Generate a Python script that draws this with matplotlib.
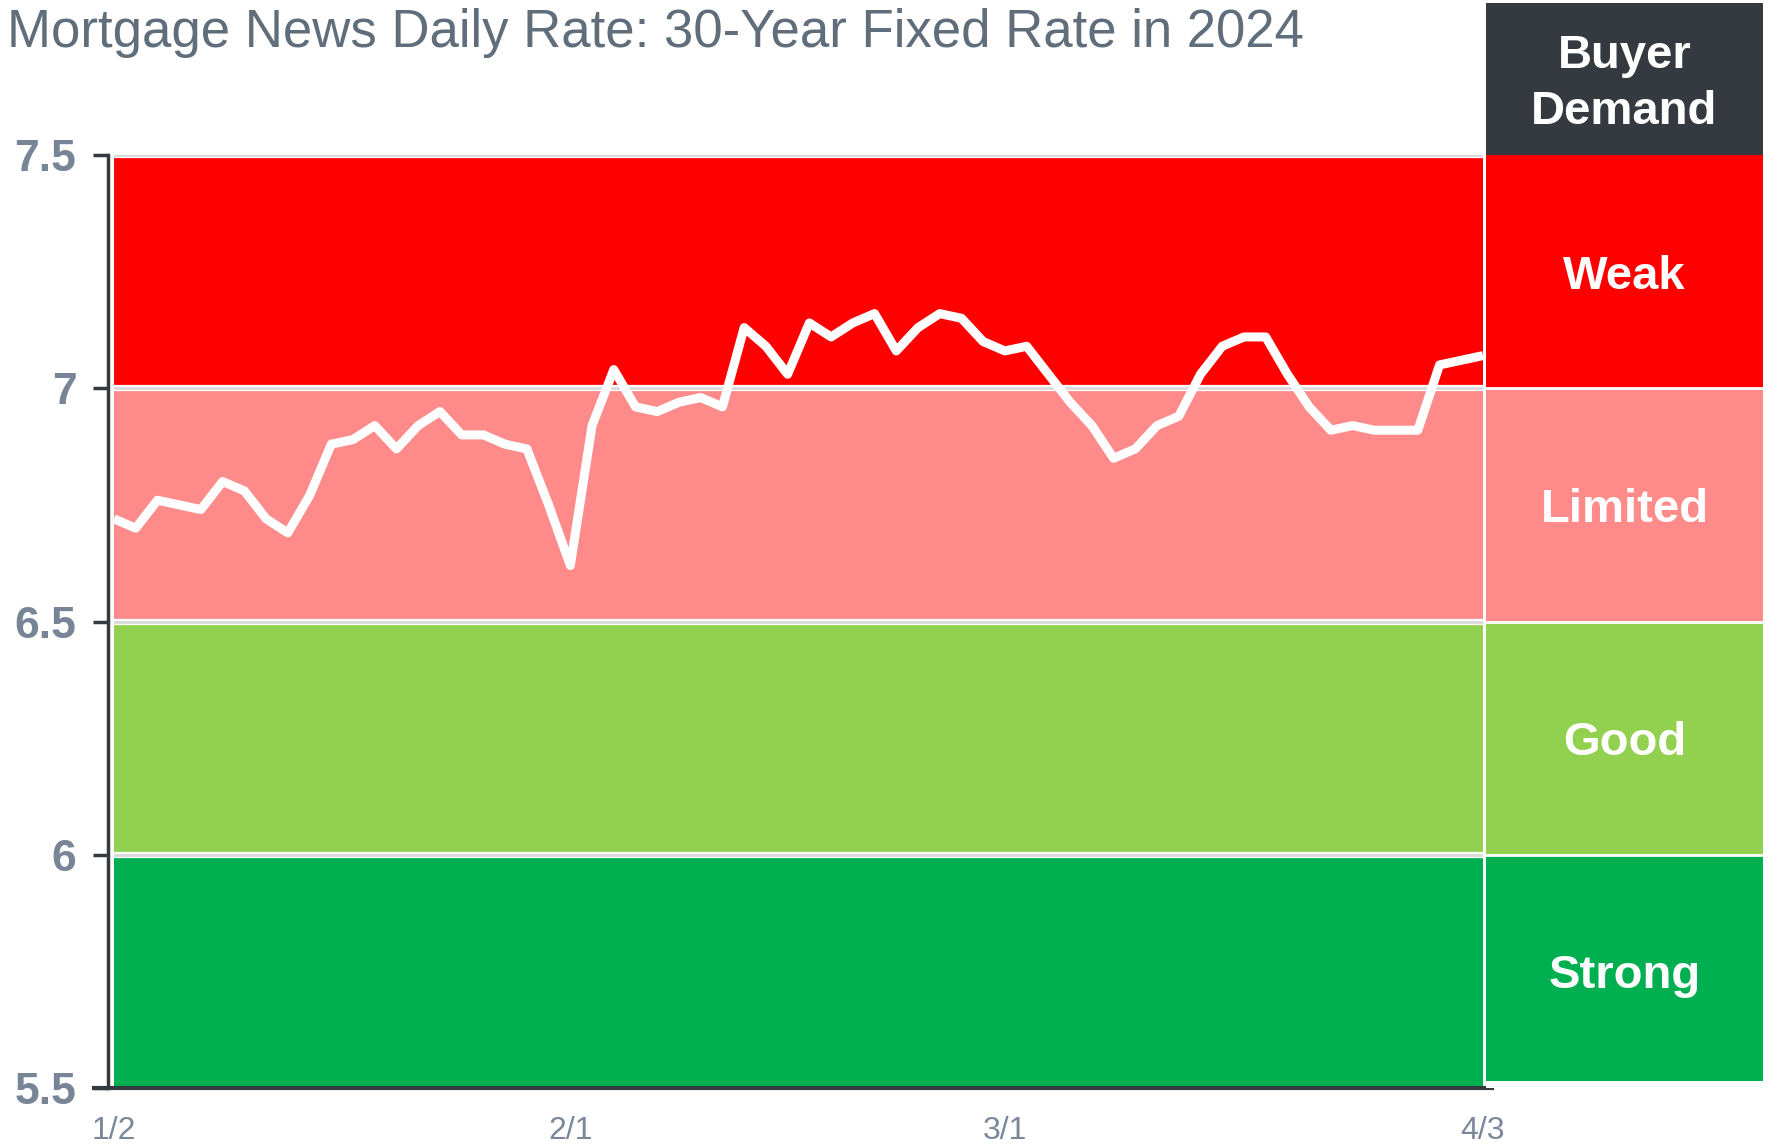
import matplotlib
matplotlib.use("Agg")
import matplotlib.pyplot as plt

plt.rcParams['font.family'] = ['Liberation Sans', 'DejaVu Sans']

# business days 1/2 .. 4/3 (2024)
rates = [6.72, 6.70, 6.76, 6.75, 6.74, 6.80, 6.78, 6.72, 6.69, 6.77,
         6.88, 6.89, 6.92, 6.87, 6.92, 6.95, 6.90, 6.90, 6.88, 6.87,
         6.75, 6.62, 6.92, 7.04, 6.96, 6.95, 6.97, 6.98, 6.96, 7.13,
         7.09, 7.03, 7.14, 7.11, 7.14, 7.16, 7.08, 7.13, 7.16, 7.15,
         7.10, 7.08, 7.09, 7.03, 6.97, 6.92, 6.85, 6.87, 6.92, 6.94,
         7.03, 7.09, 7.11, 7.11, 7.03, 6.96, 6.91, 6.92, 6.91, 6.91,
         6.91, 7.05, 7.06, 7.07]
tick_pos = [0, 21, 41, 63]
tick_labels = ["1/2", "2/1", "3/1", "4/3"]

zone_names = ["Strong", "Good", "Limited", "Weak"]
zone_edges = [5.5, 6.0, 6.5, 7.0, 7.5]
zone_colors = ["#00B050", "#92D050", "#FF8A8A", "#FF0000"]

W, H = 1771, 1144
fig = plt.figure(figsize=(W / 100, H / 100), dpi=100)

ax_l, ax_r = 114 / W, 1483 / W
ax_b, ax_t = 1 - 1088 / H, 1 - 155 / H
ax = fig.add_axes([ax_l, ax_b, ax_r - ax_l, ax_t - ax_b])

for i in range(4):
    ax.axhspan(zone_edges[i], zone_edges[i + 1], color=zone_colors[i], lw=0, zorder=0)
for lvl in zone_edges[1:]:
    ax.axhline(lvl, color="white", lw=4.5, zorder=1)
    ax.axhline(lvl, color="#D9D9D9", lw=2, zorder=1.5)

x = list(range(len(rates)))
ax.plot(x, rates, color="white", lw=6.5, solid_joinstyle="round",
        solid_capstyle="butt", zorder=3, clip_on=False)

ax.set_xlim(0, 63)
ax.set_ylim(5.5, 7.5)
ax.set_yticks([5.5, 6, 6.5, 7, 7.5])
ax.set_yticklabels(["5.5", "6", "6.5", "7", "7.5"])
ax.set_xticks(tick_pos)
ax.set_xticklabels(tick_labels)

for s in ["top", "right"]:
    ax.spines[s].set_visible(False)
ax.spines["left"].set_position(("outward", 4))
ax.spines["left"].set_color("#333A40")
ax.spines["left"].set_linewidth(2.5)
ax.spines["bottom"].set_color("#333A40")
ax.spines["bottom"].set_linewidth(3)
ax.spines["bottom"].set_bounds(-0.9, 63.4)

ax.tick_params(axis="y", direction="out", length=11, width=2.5, color="#333A40",
               labelsize=32, labelcolor="#778596", pad=12)
for t in ax.get_yticklabels():
    t.set_fontweight("bold")
ax.tick_params(axis="x", length=0, labelsize=23, labelcolor="#7A8899", pad=20)

# right-hand panel with demand zones
p_l, p_r = 1486 / W, 1763 / W
pax = fig.add_axes([p_l, ax_b, p_r - p_l, ax_t - ax_b])
for i in range(4):
    pax.axhspan(zone_edges[i], zone_edges[i + 1], color=zone_colors[i], lw=0)
    pax.text(0.5, (zone_edges[i] + zone_edges[i + 1]) / 2, zone_names[i],
             transform=pax.get_yaxis_transform(), ha="center", va="center_baseline",
             color="white", fontsize=34, fontweight="bold")
for lvl in zone_edges[1:-1]:
    pax.axhline(lvl, color="white", lw=2)
pax.axhline(5.5, color="white", lw=10)
pax.set_xlim(0, 1)
pax.set_ylim(5.5, 7.5)
pax.axis("off")

hax = fig.add_axes([p_l, 1 - 155 / H, p_r - p_l, 152 / H])
hax.set_facecolor("#343A40")
hax.set_xticks([])
hax.set_yticks([])
for s in hax.spines.values():
    s.set_visible(False)
hax.text(0.5, 0.47, "Buyer\nDemand", ha="center", va="center", color="white",
         fontsize=34, fontweight="bold", linespacing=1.35, transform=hax.transAxes)

fig.text(0.004, 0.993, "Mortgage News Daily Rate: 30-Year Fixed Rate in 2024",
         ha="left", va="top", fontsize=38, color="#5F6E7A")

fig.savefig("out.png", dpi=100)
